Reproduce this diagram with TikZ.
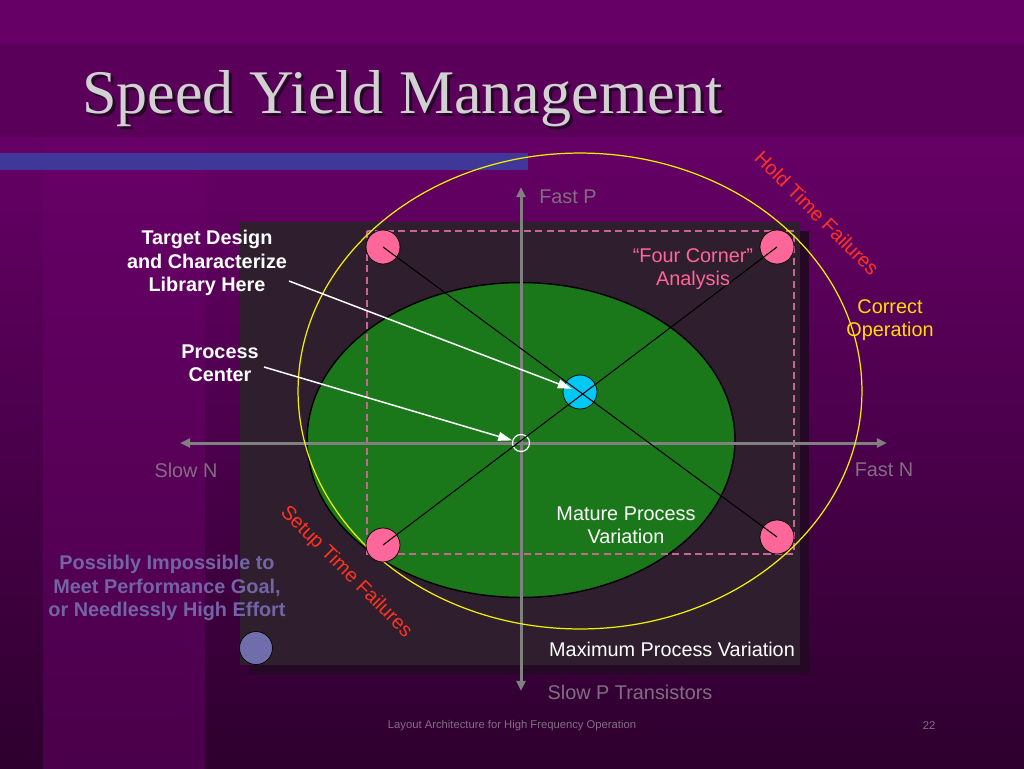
\documentclass[tikz,border=0pt]{standalone}
\usepackage{fontspec}
\setmainfont{Liberation Sans}
\newfontfamily\titlefont{Liberation Serif}
\usetikzlibrary{arrows.meta,shapes.geometric}
\definecolor{bgtop}{RGB}{102,0,102}
\definecolor{bgbot}{RGB}{46,0,46}
\definecolor{stripetop}{RGB}{104,0,104}
\definecolor{stripebot}{RGB}{74,0,74}
\definecolor{band}{RGB}{90,0,90}
\definecolor{barblue}{RGB}{64,56,152}
\definecolor{boxgray}{RGB}{46,30,46}
\definecolor{boxshadow}{RGB}{36,8,38}
\definecolor{axisgray}{RGB}{128,128,128}
\definecolor{lblgray}{RGB}{130,110,130}
\definecolor{cornerpink}{RGB}{255,102,153}
\definecolor{dashpink}{RGB}{200,100,150}
\definecolor{maturegreen}{RGB}{26,120,26}
\definecolor{limityellow}{RGB}{240,240,0}
\definecolor{textyellow}{RGB}{255,221,0}
\definecolor{failred}{RGB}{255,51,34}
\definecolor{targetcyan}{RGB}{0,200,245}
\definecolor{slate}{RGB}{112,110,170}
\definecolor{slatetext}{RGB}{115,100,165}
\newcommand\sz{\fontsize{11.3}{13.3}\selectfont}
\begin{document}
\begin{tikzpicture}[x=0.02cm,y=-0.02cm,
        every node/.style={inner sep=0pt,font=\sz},
        axis/.style={draw=axisgray,line width=1.7pt,-{Triangle[length=5.7pt,width=5pt]}},
        axislbl/.style={text=lblgray},
        corner/.style={circle,draw=black,fill=cornerpink,minimum size=0.68cm},
        diag/.style={draw=black,line width=0.6pt},
        ptr/.style={draw=white,line width=0.85pt,-{Triangle[length=8pt,width=5pt]}},
        note/.style={align=center,text=white,font=\bfseries\sz},
        fail/.style={text=failred,rotate=-45}]
  \useasboundingbox (0,0) rectangle (1024,768);
  \fill[bgtop] (0,0) rectangle (1024,137);
  \shade[top color=bgtop,bottom color=bgbot] (0,137) rectangle (1024,768);
  \shade[top color=stripetop,bottom color=stripebot] (43,137) rectangle (205,768);
  \fill[band] (0,44) rectangle (1024,137);
  \fill[barblue] (0,153) rectangle (528,170);
  \node[anchor=base west,text=boxshadow,font=\titlefont\fontsize{35.3}{40}\selectfont] at (85,116) {Speed Yield Management};
  \node[anchor=base west,text=black!18,font=\titlefont\fontsize{35.3}{40}\selectfont] (title) at (82,113) {Speed Yield Management};
  \fill[boxshadow] (249,231) rectangle (809,674);
  \fill[boxgray] (240,222) rectangle (800,665);
  \node[ellipse,draw=black,line width=0.8pt,fill=maturegreen,minimum width=8.56cm,minimum height=6.3cm] (mature) at (521,440) {};
  \draw[dashpink,dash pattern=on 4pt off 2.5pt,line width=0.6pt] (367,231) rectangle (794,554);
  \draw[axis] (521,443) -- (180,443);
  \draw[axis] (521,443) -- (887,443);
  \draw[axis] (521,443) -- (521,187);
  \draw[axis] (521,443) -- (521,691);
  \node[ellipse,draw=limityellow,line width=0.7pt,minimum width=11.28cm,minimum height=9.52cm] (correct) at (580,391) {};
  \node[corner] (tl) at (383,247) {};
  \node[corner] (tr) at (777,247) {};
  \node[corner] (bl) at (383,545) {};
  \node[corner] (br) at (777,537) {};
  \node[circle,draw=black,fill=targetcyan,minimum size=0.68cm] (tgt) at (580,392) {};
  \node[circle,draw=white,line width=0.7pt,minimum size=0.34cm] (pc) at (521,443) {};
  \node[circle,draw=black,fill=slate,minimum size=0.66cm] (hard) at (256,648) {};
  \draw[diag] (tl.center) -- (br.center);
  \draw[diag] (bl.center) -- (tr.center);
  \node[axislbl] (fastp) at (568,197) {Fast P};
  \node[axislbl] (slown) at (186,470) {Slow N};
  \node[axislbl] (fastn) at (884,470) {Fast N};
  \node[axislbl] (slowp) at (630,692) {Slow P Transistors};
  \node[note] (target) at (207,263) {Target Design\\and Characterize\\Library Here};
  \node[note] (center) at (220,363) {Process\\Center};
  \coordinate (tfrom) at (289,281);
  \coordinate (cfrom) at (264,367);
  \draw[ptr,shorten >=5pt] (tfrom) -- (tgt.center);
  \draw[ptr] (cfrom) -- (pc);
  \node[align=center,text=cornerpink] (four) at (693,269) {“Four Corner”\\Analysis};
  \node[align=center,text=textyellow] (ok) at (890,320) {Correct\\Operation};
  \node[align=center,text=white] (matlbl) at (626,525) {Mature Process\\Variation};
  \node[text=white] (maxlbl) at (672,649) {Maximum Process Variation};
  \node[fail] (hold) at (817,213) {Hold Time Failures};
  \node[fail] (setup) at (346,572) {Setup Time Failures};
  \node[align=center,text=slatetext,font=\bfseries\sz] (goal) at (167,588) {Possibly Impossible to\\Meet Performance Goal,\\or Needlessly High Effort};
  \node[text=lblgray,font=\fontsize{6.4}{8}\selectfont] (foot) at (512,726) {Layout Architecture for High Frequency Operation};
  \node[text=lblgray,font=\fontsize{6.4}{8}\selectfont] (page) at (929,726) {22};
\end{tikzpicture}
\end{document}
